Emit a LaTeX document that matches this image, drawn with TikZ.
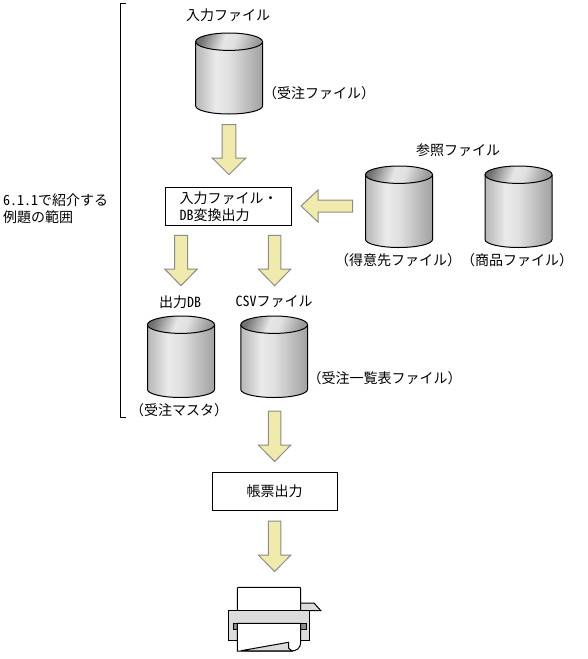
\documentclass[tikz,border=0pt]{standalone}
\usepackage{fontspec}
\setmainfont{Noto Sans CJK JP}
\newfontfamily\hw[RawFeature=+hwid]{Noto Sans CJK JP}
\pgfdeclarehorizontalshading{cylbody}{100bp}{
  color(0bp)=(black!52); color(12bp)=(black!42); color(30bp)=(black!22);
  color(40bp)=(black!8); color(50bp)=(black!12); color(70bp)=(black!32);
  color(88bp)=(black!48); color(100bp)=(black!52)}
\pgfdeclarehorizontalshading{cyltop}{100bp}{
  color(0bp)=(black!65); color(25bp)=(black!55); color(45bp)=(black!10);
  color(55bp)=(black!12); color(75bp)=(black!40); color(100bp)=(black!25)}
\definecolor{arrowfill}{RGB}{240,234,172}
\definecolor{pgray}{RGB}{220,220,220}
\definecolor{dgray}{RGB}{140,140,140}
\tikzset{
  x=1pt,y=-1pt,
  lbl/.style={inner sep=0pt,font=\fontsize{14}{17}\selectfont},
  procbox/.style={draw=black,line width=1pt,fill=white,inner sep=0pt,align=left,font=\fontsize{14}{17}\selectfont},
  barrow/.style={draw=black!45,line width=1pt,fill=arrowfill,line join=miter},
  cylline/.style={draw=black,line width=1pt},
}
\newcommand{\cylshape}[4]{%
  \path[shading=cylbody] (#1,#3+8.7) -- (#1,#4-8) arc[start angle=180,end angle=0,x radius={(#2-#1)/2},y radius=8] -- (#2,#3+8.7) -- cycle;
  \draw[cylline] (#1,#3+8.7) -- (#1,#4-8) arc[start angle=180,end angle=0,x radius={(#2-#1)/2},y radius=8] -- (#2,#3+8.7);
  \path[shading=cyltop,shading angle=-20] ({(#1+#2)/2},#3+8.7) ellipse[x radius={(#2-#1)/2},y radius=8.7];
  \draw[cylline] ({(#1+#2)/2},#3+8.7) ellipse[x radius={(#2-#1)/2},y radius=8.7];
}
\newcommand{\downblock}[6]{%
  \draw[barrow] (#1-#5,#2) -- (#1+#5,#2) -- (#1+#5,#3) -- (#1+#6,#3) -- (#1,#4) -- (#1-#6,#3) -- (#1-#5,#3) -- cycle;
}
\begin{document}
\begin{tikzpicture}
\useasboundingbox (0,0) rectangle (588,659);
\draw[line width=1pt] (125.7,3.5) -- (120.7,3.5) -- (120.7,417.5) -- (125.7,417.5);
\cylshape{195.7}{262.5}{33}{114}
\cylshape{365.5}{432.5}{166}{247.5}
\cylshape{485}{552}{166}{247.5}
\cylshape{147.5}{214.5}{316}{397.5}
\cylshape{240.8}{307.5}{316}{397.5}
\downblock{229}{124.7}{158}{174.7}{6.8}{16.8}
\downblock{181}{235.3}{269}{285.7}{6.5}{16.3}
\downblock{274.6}{235.3}{269}{285.7}{6.2}{16.3}
\downblock{274.6}{411}{445}{461.5}{6.2}{16.3}
\downblock{274.6}{521}{555}{571.5}{6.2}{16.3}
\draw[barrow] (352.7,200) -- (318,200) -- (318,190) -- (301,206) -- (318,222) -- (318,212) -- (352.7,212) -- cycle;
\node[procbox,minimum width=126.4pt,minimum height=38.4pt] (convert) at (228.5,206.5) {入力ファイル・\\{\hw DB}変換出力};
\node[procbox,minimum width=125pt,minimum height=38pt] (report) at (274.5,491) {帳票出力};
\node[lbl] (inlabel) at (228,15) {入力ファイル};
\node[lbl] (injuchu) at (319,93) {（受注ファイル）};
\node[lbl] (reflabel) at (458,150) {参照ファイル};
\node[lbl] (tokui) at (398,260) {（得意先ファイル）};
\node[lbl] (shohin) at (517,260) {（商品ファイル）};
\node[lbl] (outdb) at (180,302) {出力{\hw DB}};
\node[lbl] (csv) at (274,302) {{\hw CSV}ファイル};
\node[lbl] (ichiran) at (384.5,378) {（受注一覧表ファイル）};
\node[lbl] (master) at (179,410) {（受注マスタ）};
\node[lbl,align=left,anchor=west] (scope) at (3,209) {{\hw 6.1.1}で紹介する\\例題の範囲};
\draw[line width=1pt,fill=white,rounded corners=1pt] (237.3,610) -- (237.3,587.3) -- (300.7,587.3) -- (300.7,610);
\draw[line width=1pt,fill=pgray] (300.7,603) -- (314,603) -- (320.7,610.5) -- (300.7,610.5) -- cycle;
\draw[line width=1pt,fill=pgray] (228.3,610.5) rectangle (309.7,640.7);
\draw[line width=1pt,fill=dgray] (233.5,623.3) rectangle (306,629.5);
\draw[line width=1pt,fill=white] (237.3,623.3) -- (237.3,651) -- (291,651) .. controls (297,651) and (300.7,648) .. (300.7,642) -- (300.7,623.3) -- cycle;
\draw[line width=1pt,fill=pgray] (241,650.7) -- (288.5,642.3) -- (288.5,648) -- (292,651) -- cycle;
\end{tikzpicture}
\end{document}
